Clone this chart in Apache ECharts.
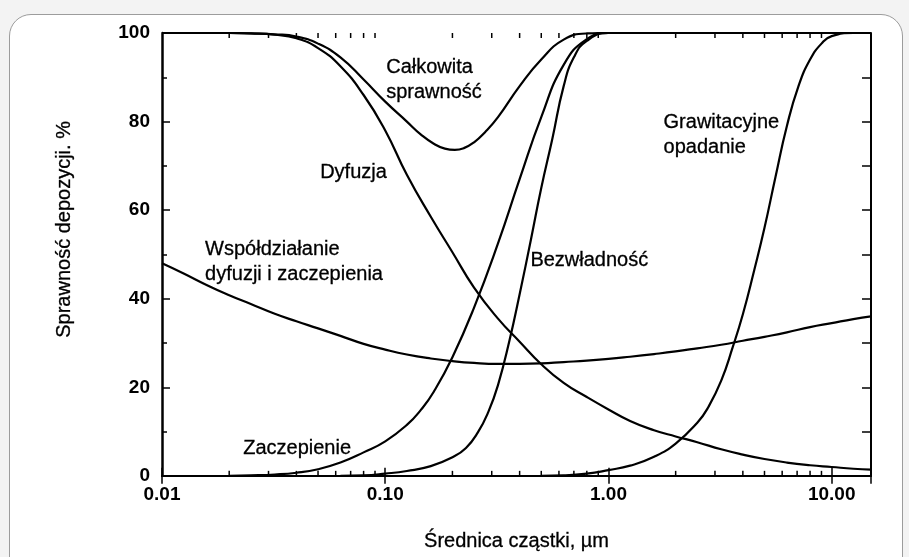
<!DOCTYPE html>
<html>
<head>
<meta charset="utf-8">
<title>Sprawność depozycji</title>
<script src="https://cdn.jsdelivr.net/npm/echarts@6/dist/echarts.min.js"></script>
<style>
  html, body { margin: 0; padding: 0; background: #f3f3f3; overflow: hidden; }
  .frame {
    position: absolute; left: 9px; top: 14px; width: 892px; height: 580px;
    background: #fff; border: 1.5px solid #9c9c9c; border-radius: 22px;
  }
  #chart { position: absolute; left: 0; top: 0; width: 909px; height: 557px; }
</style>
</head>
<body>
<div class="frame"></div>
<div id="chart"></div>
<script>
// [średnica µm, sprawność %]
const calkowita = [
  [0.01, 100], [0.0125, 100], [0.016, 100], [0.02, 100], [0.025, 99.9], [0.032, 99.7],
  [0.04, 99.2], [0.05, 97.6], [0.063, 94.5], [0.08, 89.5], [0.1, 84.5], [0.125, 80],
  [0.145, 77], [0.165, 75], [0.185, 73.9], [0.205, 73.6], [0.225, 74], [0.25, 75.3],
  [0.28, 77.6], [0.32, 81], [0.4, 88], [0.5, 94], [0.63, 98.5], [0.8, 99.9],
  [1, 100], [15, 100]
]
const dyfuzja = [
  [0.01, 100], [0.0125, 100], [0.016, 100], [0.02, 100], [0.025, 99.9], [0.032, 99.6],
  [0.04, 98.8], [0.05, 96.6], [0.063, 92.5], [0.08, 86], [0.1, 78], [0.125, 68],
  [0.16, 58.5], [0.2, 50.5], [0.25, 42.5], [0.32, 35.5], [0.4, 30.3], [0.5, 25.2],
  [0.63, 21], [0.8, 17.8], [1, 15], [1.25, 12.4], [1.6, 10.3], [2, 8.9], [2.5, 7.6],
  [3.2, 6], [4, 4.8], [5, 3.8], [6.3, 3], [8, 2.4], [10, 2], [12.5, 1.6], [15, 1.4]
]
const wspoldzialanie = [
  [0.01, 48], [0.0125, 45.7], [0.016, 43], [0.02, 40.8], [0.025, 38.8], [0.032, 36.6],
  [0.04, 34.9], [0.05, 33.3], [0.063, 31.6], [0.08, 29.8], [0.1, 28.5], [0.125, 27.4],
  [0.16, 26.5], [0.2, 25.9], [0.25, 25.5], [0.32, 25.3], [0.4, 25.3], [0.5, 25.4],
  [0.63, 25.7], [0.8, 26], [1, 26.4], [1.25, 26.9], [1.6, 27.5], [2, 28.1], [2.5, 28.8],
  [3.2, 29.6], [4, 30.5], [5, 31.4], [6.3, 32.4], [8, 33.6], [10, 34.5], [12.5, 35.4],
  [15, 36]
]
const zaczepienie = [
  [0.02, 0], [0.025, 0.1], [0.032, 0.3], [0.04, 0.7], [0.05, 1.5], [0.063, 3],
  [0.08, 5.3], [0.1, 7.8], [0.125, 11.5], [0.145, 15], [0.165, 19], [0.2, 26.8],
  [0.25, 38], [0.32, 52.5], [0.4, 67], [0.5, 81], [0.63, 92.8], [0.8, 98.6],
  [1, 100], [15, 100]
]
const bezwladnosc = [
  [0.063, 0], [0.08, 0.1], [0.1, 0.5], [0.125, 1.1], [0.16, 2.2], [0.2, 4.2],
  [0.23, 6.3], [0.26, 9.8], [0.29, 14.5], [0.32, 20.5], [0.36, 30.5], [0.4, 41],
  [0.45, 53.5], [0.5, 65], [0.56, 76], [0.63, 88], [0.7, 94.5], [0.8, 98.2],
  [1, 100], [15, 100]
]
const grawitacyjne = [
  [0.5, 0], [0.63, 0.1], [0.8, 0.5], [1, 1.3], [1.25, 2.3], [1.6, 4.3], [2, 7.3],
  [2.5, 12], [2.8, 15.5], [3.2, 21.5], [3.6, 29], [4, 36.5], [4.5, 46.5], [5, 56],
  [5.6, 67.5], [6.3, 79], [7.1, 88], [8, 94], [9, 97.6], [10, 99.3], [12.5, 100],
  [15, 100]
]

// podpisy krzywych: [tekst, x, y]
const podpisy = [
  ['Całkowita\nsprawność', 0.101, 89.5],
  ['Dyfuzja', 0.0511, 68.5],
  ['Współdziałanie\ndyfuzji i zaczepienia', 0.0156, 48.3],
  ['Zaczepienie', 0.0231, 6.1],
  ['Bezwładność', 0.447, 48.6],
  ['Grawitacyjne\nopadanie', 1.765, 77]
]

const xMinorTicks = [
  0.02, 0.03, 0.04, 0.05, 0.06, 0.07, 0.08, 0.09,
  0.2, 0.3, 0.4, 0.5, 0.6, 0.7, 0.8, 0.9,
  2, 3, 4, 5, 6, 7, 8, 9
]

const FONT = 'Liberation Sans, Arial, sans-serif'
const INK = '#000'
const chart = echarts.init(document.getElementById('chart'))

const lineSeries = (name, data) => ({
  name,
  type: 'line',
  data,
  smooth: 0.5,
  symbol: 'none',
  clip: true,
  lineStyle: { color: INK, width: 2.2 },
  z: 3
})

const isPow10 = (v) => {
  const l = Math.log10(v)
  return Math.abs(l - Math.round(l)) < 1e-6
}

const option = {
  animation: false,
  backgroundColor: 'transparent',
  grid: { left: 162, right: 38, top: 33, bottom: 80 },
  xAxis: [
    {
      type: 'log',
      logBase: 10,
      min: 0.01,
      max: 15,
      name: 'Średnica cząstki, µm',
      nameLocation: 'middle',
      nameGap: 56,
      nameTextStyle: {
        color: INK, fontSize: 20, fontFamily: FONT,
        textBorderColor: INK, textBorderWidth: 0.3
      },
      axisLine: { lineStyle: { color: INK, width: 2 } },
      axisTick: { inside: true, length: 8, lineStyle: { color: INK, width: 1.5 } },
      splitLine: { show: false },
      axisLabel: {
        color: INK,
        fontSize: 19,
        fontWeight: 'bold',
        fontFamily: FONT,
        margin: 9,
        showMaxLabel: false,
        formatter: (v) => (isPow10(v) ? v.toFixed(2) : '')
      }
    },
    {
      type: 'log',
      logBase: 10,
      min: 0.01,
      max: 15,
      position: 'top',
      axisLine: { lineStyle: { color: INK, width: 2 } },
      axisTick: { inside: true, length: 8, lineStyle: { color: INK, width: 1.5 } },
      axisLabel: { show: false },
      splitLine: { show: false }
    }
  ],
  yAxis: [
    {
      type: 'value',
      min: 0,
      max: 100,
      interval: 20,
      name: 'Sprawność depozycji. %',
      nameLocation: 'middle',
      nameGap: 88,
      nameTextStyle: {
        color: INK, fontSize: 20, fontFamily: FONT,
        textBorderColor: INK, textBorderWidth: 0.3,
        padding: [0, 0, 0, 50]
      },
      axisLine: { show: true, lineStyle: { color: INK, width: 2.5 } },
      axisTick: { show: true, inside: true, length: 8, lineStyle: { color: INK, width: 1.5 } },
      minorTick: { show: true, splitNumber: 2, length: 5, lineStyle: { color: INK, width: 1.5 } },
      splitLine: { show: false },
      axisLabel: {
        color: INK,
        fontSize: 19,
        fontWeight: 'bold',
        fontFamily: FONT,
        margin: 12
      }
    },
    {
      type: 'value',
      min: 0,
      max: 100,
      interval: 10,
      position: 'right',
      axisLine: { show: true, lineStyle: { color: INK, width: 2 } },
      axisTick: { show: true, inside: true, length: 9, lineStyle: { color: INK, width: 1.5 } },
      axisLabel: { show: false },
      splitLine: { show: false }
    }
  ],
  series: [
    lineSeries('Całkowita sprawność', calkowita),
    lineSeries('Dyfuzja', dyfuzja),
    lineSeries('Współdziałanie dyfuzji i zaczepienia', wspoldzialanie),
    lineSeries('Zaczepienie', zaczepienie),
    lineSeries('Bezwładność', bezwladnosc),
    lineSeries('Grawitacyjne opadanie', grawitacyjne),
    {
      // drobne podziałki osi X (dół i góra)
      type: 'custom',
      data: xMinorTicks.map(v => [v, 0]),
      silent: true,
      z: 4,
      renderItem: (params, api) => {
        const bottom = api.coord([api.value(0), 0])
        const top = api.coord([api.value(0), 100])
        const style = { stroke: INK, lineWidth: 1.5 }
        return {
          type: 'group',
          children: [
            { type: 'line', shape: { x1: bottom[0], y1: bottom[1], x2: bottom[0], y2: bottom[1] - 5 }, style },
            { type: 'line', shape: { x1: top[0], y1: top[1], x2: top[0], y2: top[1] + 5 }, style }
          ]
        }
      }
    },
    {
      type: 'scatter',
      data: podpisy.map(p => ({ value: [p[1], p[2]], name: p[0] })),
      symbolSize: 0,
      silent: true,
      z: 5,
      label: {
        show: true,
        position: 'right',
        distance: 0,
        align: 'left',
        verticalAlign: 'middle',
        color: INK,
        opacity: 1,
        fontSize: 20,
        lineHeight: 25,
        fontFamily: FONT,
        textBorderColor: INK,
        textBorderWidth: 0.3,
        formatter: (p) => p.name
      }
    }
  ]
}

chart.setOption(option)
window.addEventListener('resize', () => chart.resize())
</script>
</body>
</html>
